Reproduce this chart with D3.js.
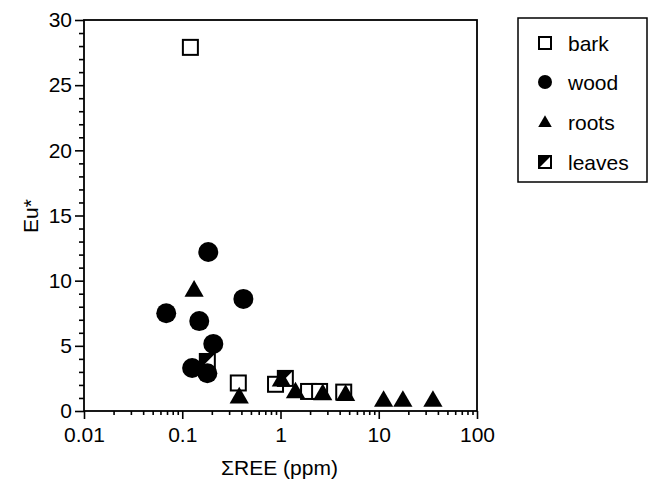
<!DOCTYPE html>
<html><head><meta charset="utf-8">
<script src="https://cdn.jsdelivr.net/npm/d3@7"></script>
<style>body{margin:0;background:#fff}svg{display:block}</style>
</head><body><svg id="c" width="649" height="482"></svg>
<script>
// ---- data ----
const barkX   = [0.121, 0.372, 0.89, 1.93, 2.5, 4.4];
const barkY   = [27.9, 2.15, 2.05, 1.5, 1.5, 1.45];
const woodX   = [0.184, 0.419, 0.0687, 0.149, 0.207, 0.126, 0.18];
const woodY   = [12.2, 8.6, 7.5, 6.9, 5.15, 3.3, 2.9];
const rootsX  = [0.132, 0.38, 1.02, 1.42, 2.69, 4.6, 11.2, 17.6, 35.6];
const rootsY  = [9.2, 1.0, 2.3, 1.4, 1.25, 1.2, 0.75, 0.75, 0.75];
const leavesX = [0.18, 1.12];
const leavesY = [3.8, 2.5];
const xTicks = [0.01, 0.1, 1, 10, 100];
const xTickLabels = ["0.01", "0.1", "1", "10", "100"];
const yTicks = [0, 5, 10, 15, 20, 25, 30];
const seriesNames = ["bark", "wood", "roots", "leaves"];

const svg = d3.select("#c");
const L = 84, R = 477, T = 20, B = 411;
const x = d3.scaleLog().domain([0.01, 100]).range([L, R]);
const y = d3.scaleLinear().domain([0, 30]).range([B, T]);
const font = "'Liberation Sans', Arial, Helvetica, sans-serif";
const fs = 21;

// minor ticks
const xMinor = [];
[0.01, 0.1, 1, 10].forEach(d => { for (let k = 2; k <= 9; k++) xMinor.push(d * k); });
const yMinor = d3.range(0, 31, 1).filter(v => v % 5 !== 0);

const gx = svg.append("g").attr("transform", `translate(0,${B})`);
gx.call(d3.axisBottom(x).tickValues(xMinor).tickSize(4).tickFormat(""));
gx.select(".domain").remove();
const gx2 = svg.append("g").attr("transform", `translate(0,${B})`)
  .call(d3.axisBottom(x).tickValues(xTicks).tickSize(8).tickPadding(8)
    .tickFormat((d, i) => xTickLabels[i]));
gx2.select(".domain").remove();

const gy = svg.append("g").attr("transform", `translate(${L},0)`);
gy.call(d3.axisLeft(y).tickValues(yMinor).tickSize(5).tickFormat(""));
gy.select(".domain").remove();
const gy2 = svg.append("g").attr("transform", `translate(${L},0)`)
  .call(d3.axisLeft(y).tickValues(yTicks).tickSize(9).tickPadding(3).tickFormat(d3.format("d")));
gy2.select(".domain").remove();
svg.selectAll("g .tick line").attr("stroke", "#000").attr("stroke-width", 1.6);
svg.selectAll("g .tick text").attr("font-family", font).attr("font-size", fs).attr("fill", "#000");

// frame
svg.append("rect").attr("x", L).attr("y", T).attr("width", R - L).attr("height", B - T)
  .attr("fill", "none").attr("stroke", "#000").attr("stroke-width", 1.8);

// axis titles
svg.append("text").attr("x", (L + R) / 2 - 1).attr("y", 475).attr("text-anchor", "middle")
  .attr("font-family", font).attr("font-size", fs).attr("fill", "#000").text("ΣREE (ppm)");
svg.append("text").attr("transform", `translate(38,216) rotate(-90)`).attr("text-anchor", "middle")
  .attr("font-family", font).attr("font-size", fs).attr("fill", "#000").text("Eu*");

// marker helpers
function leavesPath(cx, cy, s) {
  const p = d3.path(), h = s / 2;
  p.moveTo(cx - h, cy - h); p.lineTo(cx + h, cy - h); p.lineTo(cx - h, cy + h); p.closePath();
  return p.toString();
}
function drawBark(g, px, py, s) {
  g.append("rect").attr("x", px - s / 2).attr("y", py - s / 2).attr("width", s).attr("height", s)
    .attr("fill", "#fff").attr("stroke", "#000").attr("stroke-width", 2);
}
function drawLeaves(g, px, py, s) {
  g.append("rect").attr("x", px - s / 2).attr("y", py - s / 2).attr("width", s).attr("height", s)
    .attr("fill", "#fff").attr("stroke", "#000").attr("stroke-width", 2);
  g.append("path").attr("d", leavesPath(px, py, s)).attr("fill", "#000");
}
function drawWood(g, px, py, r) {
  g.append("circle").attr("cx", px).attr("cy", py).attr("r", r).attr("fill", "#000");
}
function drawRoot(g, px, py, area) {
  g.append("path").attr("transform", `translate(${px},${py})`)
    .attr("d", d3.symbol(d3.symbolTriangle, area)()).attr("fill", "#000");
}

const pts = svg.append("g");
barkX.forEach((d, i) => drawBark(pts, x(d), y(barkY[i]), 15));
leavesX.forEach((d, i) => drawLeaves(pts, x(d), y(leavesY[i]), 15));
woodX.forEach((d, i) => drawWood(pts, x(d), y(woodY[i]), 10));
rootsX.forEach((d, i) => drawRoot(pts, x(d), y(rootsY[i]), 160));

// legend
const lg = svg.append("g");
lg.append("rect").attr("x", 518).attr("y", 18).attr("width", 129).attr("height", 164)
  .attr("fill", "#fff").attr("stroke", "#000").attr("stroke-width", 1.5);
const ly = [43, 82, 122, 162];
const mx = 545;
drawBark(lg, mx, ly[0], 12);
drawWood(lg, mx, ly[1], 7);
drawRoot(lg, mx, ly[2] + 1, 80);
drawLeaves(lg, mx, ly[3], 12);
seriesNames.forEach((n, i) => {
  lg.append("text").attr("x", 568).attr("y", ly[i]).attr("dy", "0.36em")
    .attr("font-family", font).attr("font-size", fs).attr("fill", "#000").text(n);
});
</script>
</body></html>
